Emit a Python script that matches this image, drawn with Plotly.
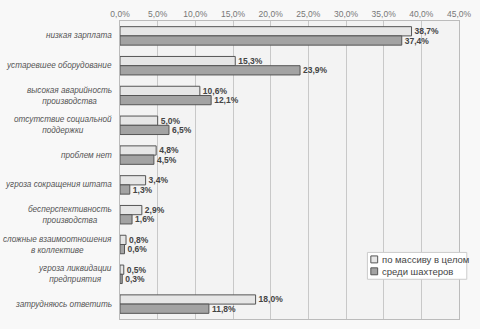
import plotly.graph_objects as go

categories = [
    "низкая зарплата",
    "устаревшее оборудование",
    "высокая аварийность<br>производства",
    "отсутствие социальной<br>поддержки",
    "проблем нет",
    "угроза сокращения штата",
    "бесперспективность<br>производства",
    "сложные взаимоотношения<br>в коллективе",
    "угроза ликвидации<br>предприятия",
    "затрудняюсь ответить",
]
overall = [38.7, 15.3, 10.6, 5.0, 4.8, 3.4, 2.9, 0.8, 0.5, 18.0]
miners = [37.4, 23.9, 12.1, 6.5, 4.5, 1.3, 1.6, 0.6, 0.3, 11.8]
series_names = ["по массиву в целом", "среди шахтеров"]
tick_vals = [0, 5, 10, 15, 20, 25, 30, 35, 40, 45]
colors = ["#e6e6e6", "#a3a3a3"]

FONT = "Liberation Sans, Arial"


def fmt(v):
    return f"{v:.1f}%".replace(".", ",")


fig = go.Figure()
for name, vals, fill in [(series_names[0], overall, colors[0]), (series_names[1], miners, colors[1])]:
    fig.add_trace(go.Bar(
        y=categories, x=vals, name=name, orientation="h",
        marker=dict(color=fill, line=dict(color="#555555", width=1)),
        text=[fmt(v) for v in vals], textposition="outside", constraintext="none",
        textfont=dict(family=FONT, size=8.5, color="#444444", weight="bold"),
        cliponaxis=False, showlegend=False,
    ))

# category labels (centered multi-line, like the original)
for c in categories:
    fig.add_annotation(
        xref="paper", yref="y", x=0, y=c, xanchor="right", yanchor="middle",
        xshift=-6, text=c, showarrow=False, align="center",
        font=dict(family=FONT, size=8.2, color="#555555", style="italic"),
    )

# compact legend box drawn with shapes + text
W, H = 480, 329
L, R, T, B = 120, 12, 20, 9
pw, ph = W - L - R, H - T - B


def px(x):
    return (x - L) / pw


def py(y):
    return (H - B - y) / ph


fig.add_shape(type="rect", xref="paper", yref="paper",
              x0=px(374), x1=px(476), y0=py(280), y1=py(253),
              fillcolor="#ffffff", line=dict(color="#cccccc", width=1), layer="above")
for i, (name, col) in enumerate(zip(series_names, colors)):
    yc = 260 + i * 12
    fig.add_shape(type="rect", xref="paper", yref="paper",
                  x0=px(377.5), x1=px(384.5), y0=py(yc + 3.5), y1=py(yc - 3.5),
                  fillcolor=col, line=dict(color="#555555", width=1), layer="above")
    fig.add_annotation(xref="paper", yref="paper", x=px(387), y=py(yc),
                       xanchor="left", yanchor="middle", text=name, showarrow=False,
                       font=dict(family=FONT, size=9.5, color="#444444"))

fig.update_layout(
    width=W, height=H,
    margin=dict(l=L, r=R, t=T, b=B),
    paper_bgcolor="#f8f8f8", plot_bgcolor="#f3f3f3",
    barmode="group", bargap=0.38, bargroupgap=0.0,
    font=dict(family=FONT, color="#555555"),
    showlegend=False,
)
fig.update_xaxes(
    side="top", range=[0, 45], tickvals=tick_vals,
    ticktext=[fmt(v) for v in tick_vals],
    tickfont=dict(size=8.5, color="#777777"), ticklabeloverflow="allow",
    showgrid=True, gridcolor="#c8c8c8", gridwidth=1,
    showline=True, linecolor="#bbbbbb", mirror=True, zeroline=False,
    ticks="", ticklen=0,
)
fig.update_yaxes(
    autorange="reversed", showticklabels=False,
    showline=True, linecolor="#bbbbbb", mirror=True, ticks="",
)

fig.write_html("out.html")
